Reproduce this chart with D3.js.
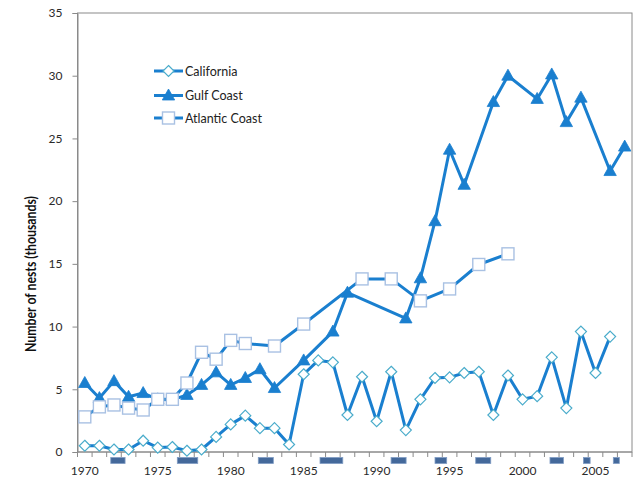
<!DOCTYPE html>
<html>
<head>
<meta charset="utf-8">
<script src="https://cdn.jsdelivr.net/npm/d3@7"></script>
<style>
  body { margin: 0; background: #fff; }
  text { font-family: Lato, "Open Sans", sans-serif; }
</style>
</head>
<body>
<svg id="chart" width="640" height="483"></svg>
<script>
const years = [1970, 1971, 1972, 1973, 1974, 1975, 1976, 1977, 1978, 1979,
  1980, 1981, 1982, 1983, 1984, 1985, 1986, 1987, 1988, 1989,
  1990, 1991, 1992, 1993, 1994, 1995, 1996, 1997, 1998, 1999,
  2000, 2001, 2002, 2003, 2004, 2005, 2006, 2007]
const yearLabels = [1970, 1975, 1980, 1985, 1990, 1995, 2000, 2005]
const yTicks = [0, 5, 10, 15, 20, 25, 30, 35]

// nests in thousands, null = no count that year
const california = [0.5, 0.5, 0.2, 0.2, 0.9, 0.35, 0.4, 0.1, 0.2, 1.2,
  2.2, 2.9, 1.9, 1.9, 0.6, 6.2, 7.3, 7.15, 2.95, 6.0,
  2.45, 6.4, 1.75, 4.2, 5.9, 5.95, 6.3, 6.4, 2.95, 6.1,
  4.2, 4.45, 7.55, 3.5, 9.6, 6.3, 9.2, null]
const gulfCoast = [5.5, 4.3, 5.65, 4.4, 4.7, 4.2, 4.15, 4.55, 5.35, 6.35,
  5.35, 5.9, 6.6, 5.1, null, 7.3, null, 9.6, 12.7, null,
  null, null, 10.65, 13.85, 18.4, 24.1, 21.3, null, 27.9, 30.0,
  null, 28.15, 30.1, 26.3, 28.25, null, 22.4, 24.35]
const atlanticCoast = [2.8, 3.6, 3.75, 3.5, 3.35, 4.2, 4.2, 5.5, 7.95, 7.4,
  8.9, 8.65, null, 8.45, null, 10.2, null, null, null, 13.8,
  null, 13.8, null, 12.05, null, 13.0, null, 14.95, null, 15.8,
  null, null, null, null, null, null, null, null]

// El Nino episodes (fractional years)
const elNinoStart = [1972.28, 1976.84, 1982.39, 1986.62, 1991.49, 1994.5, 1997.29, 2002.38, 2004.67, 2006.72]
const elNinoEnd = [1973.26, 1978.24, 1983.42, 1988.18, 1992.52, 1995.3, 1998.32, 2003.3, 2005.13, 2007.13]

const lineColor = "#1a7fcf"
const frameColor = "#8a8a8a"

const svg = d3.select("#chart")
const margin = { top: 13, right: 8, bottom: 31, left: 77.5 }
const width = 640
const height = 483
const plotRight = width - margin.right
const plotBottom = height - margin.bottom

const x = d3.scaleBand().domain(years).range([margin.left, plotRight]).padding(0)
const xTime = d3.scaleLinear().domain([years[0], years[years.length - 1] + 1]).range([margin.left, plotRight])
const y = d3.scaleLinear().domain([0, 35]).range([plotBottom, margin.top])
const cx = yr => x(yr) + x.bandwidth() / 2

// frame
svg.append("rect")
  .attr("x", margin.left).attr("y", margin.top)
  .attr("width", plotRight - margin.left).attr("height", plotBottom - margin.top)
  .attr("fill", "none").attr("stroke", frameColor).attr("stroke-width", 1)

// y axis
const yAxis = svg.append("g")
  .attr("transform", `translate(${margin.left},0)`)
  .call(d3.axisLeft(y).tickValues(yTicks).tickSize(5).tickPadding(10))
yAxis.selectAll("path, line").attr("stroke", frameColor)
yAxis.selectAll("text").attr("font-size", 12).attr("fill", "#2a2a2a").style("font-family", "Lato, sans-serif")

// x axis: ticks on category boundaries, labels on category centres
const xAxis = svg.append("g").attr("transform", `translate(0,${plotBottom})`)
xAxis.append("line")
  .attr("x1", margin.left).attr("x2", plotRight)
  .attr("stroke", frameColor)
xAxis.selectAll(".bound")
  .data(years.concat([null]))
  .enter().append("line")
  .attr("x1", d => d === null ? plotRight : x(d))
  .attr("x2", d => d === null ? plotRight : x(d))
  .attr("y1", 0).attr("y2", 5)
  .attr("stroke", frameColor)
xAxis.selectAll(".lbl")
  .data(yearLabels)
  .enter().append("text")
  .attr("x", d => cx(d))
  .attr("y", 23)
  .attr("text-anchor", "middle")
  .attr("font-size", 12)
  .attr("fill", "#2a2a2a")
  .text(d => d)

// El Nino bars under the axis
svg.append("g").selectAll("rect")
  .data(elNinoStart.map((s, i) => [s, elNinoEnd[i]]))
  .enter().append("rect")
  .attr("x", d => xTime(d[0]))
  .attr("width", d => xTime(d[1]) - xTime(d[0]))
  .attr("y", plotBottom + 5.5)
  .attr("height", 6)
  .attr("fill", "#44699b")
  .attr("stroke", "#7f9cc4")
  .attr("stroke-width", 0.8)

// y axis title (squeezed to the width Calibri gives in the original)
svg.append("text")
  .attr("transform", `translate(36,274) rotate(-90)`)
  .attr("text-anchor", "middle")
  .attr("font-size", 15.5)
  .attr("font-weight", "bold")
  .attr("fill", "#111")
  .attr("textLength", 156)
  .attr("lengthAdjust", "spacingAndGlyphs")
  .text("Number of nests (thousands)")

const seriesList = [
  { name: "California", values: california, marker: "diamond" },
  { name: "Gulf Coast", values: gulfCoast, marker: "triangle" },
  { name: "Atlantic Coast", values: atlanticCoast, marker: "square" },
]

const drawMarker = (g, type) => {
  if (type === "diamond") {
    g.append("path")
      .attr("d", "M0,-5.5L5.5,0L0,5.5L-5.5,0Z")
      .attr("fill", "#fff").attr("stroke", "#4aaccb").attr("stroke-width", 1.2)
  } else if (type === "triangle") {
    g.append("path")
      .attr("d", "M0,-6.5L6.2,4.5L-6.2,4.5Z")
      .attr("fill", lineColor).attr("stroke", lineColor).attr("stroke-width", 0.8)
  } else {
    g.append("rect")
      .attr("x", -6).attr("y", -6).attr("width", 12).attr("height", 12)
      .attr("fill", "#fff").attr("stroke", "#a9c1e3").attr("stroke-width", 1.4)
  }
}

const line = d3.line().x(d => cx(d.year)).y(d => y(d.value))

seriesList.forEach(s => {
  const pts = years.map((yr, i) => ({ year: yr, value: s.values[i] })).filter(d => d.value !== null)
  const g = svg.append("g")
  g.append("path")
    .datum(pts)
    .attr("d", line)
    .attr("fill", "none")
    .attr("stroke", lineColor)
    .attr("stroke-width", 3)
    .attr("stroke-linejoin", "round")
  g.selectAll(".m")
    .data(pts)
    .enter().append("g")
    .attr("transform", d => `translate(${cx(d.year)},${y(d.value)})`)
    .each(function () { drawMarker(d3.select(this), s.marker) })
})

// legend
const legend = svg.append("g").attr("transform", "translate(154,71)")
seriesList.forEach((s, i) => {
  const row = legend.append("g").attr("transform", `translate(0,${[0, 24.5, 47][i]})`)
  row.append("line")
    .attr("x1", 0).attr("x2", 29)
    .attr("stroke", lineColor).attr("stroke-width", 3)
  const m = row.append("g").attr("transform", "translate(14.5,0)")
  drawMarker(m, s.marker)
  row.append("text")
    .attr("x", 31).attr("y", 4.5)
    .attr("font-size", 12.5)
    .attr("fill", "#222")
    .text(s.name)
})
</script>
</body>
</html>
